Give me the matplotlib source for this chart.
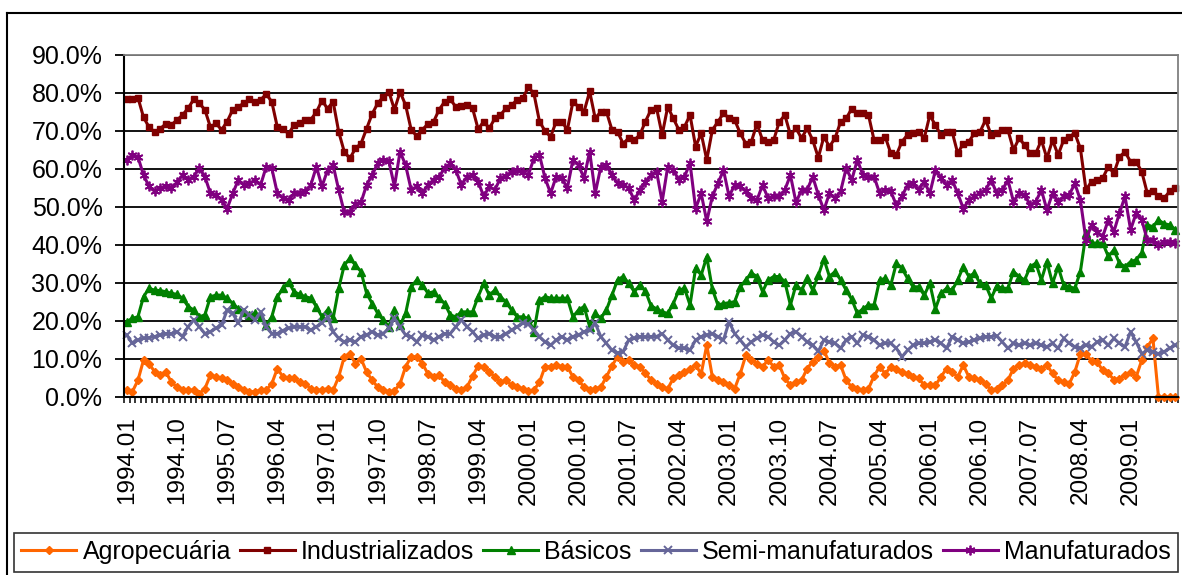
import matplotlib
matplotlib.use('Agg')
import matplotlib.pyplot as plt
import numpy as np
from matplotlib.lines import Line2D
from matplotlib.ticker import FuncFormatter

plt.rcParams['font.family'] = ['Liberation Sans', 'DejaVu Sans']

# Monthly shares [%], 1994.01 - 2009.09, one row per year
# ----------------------------------------------------------------------------

agro = [
    1.8, 1.4, 4.4, 9.7, 8.8, 6.6, 5.8, 6.6, 3.9, 2.6, 1.8, 1.8,
    1.8, 0.9, 2.2, 5.8, 5.3, 4.9, 4.4, 3.5, 2.6, 1.8, 1.4, 1.4,
    1.8, 1.8, 3.5, 7.5, 5.3, 4.9, 4.9, 3.9, 3.5, 2.2, 1.8, 1.8,
    2.2, 1.8, 5.3, 10.6, 11.4, 8.8, 10.1, 6.6, 4.4, 2.6, 1.8, 1.4,
    1.6, 3.5, 8.0, 10.6, 10.6, 8.8, 6.1, 5.3, 5.7, 3.9, 3.1, 2.2,
    1.8, 2.6, 5.5, 8.2, 8.0, 6.6, 5.3, 3.9, 4.4, 3.1, 2.6, 2.2,
    1.6, 1.8, 3.9, 8.0, 8.0, 8.4, 8.0, 8.0, 5.3, 4.4, 2.6, 1.8,
    2.2, 2.6, 5.3, 8.2, 10.6, 9.3, 9.7, 8.4, 8.0, 6.3, 4.4, 3.5,
    2.6, 2.2, 4.9, 5.9, 6.5, 7.5, 8.4, 6.1, 13.7, 5.3, 4.4, 3.9,
    3.1, 2.2, 6.1, 11.0, 9.7, 8.8, 8.0, 9.7, 8.0, 8.4, 4.9, 3.1,
    3.9, 4.4, 7.5, 9.3, 10.6, 12.2, 9.0, 8.0, 8.4, 4.4, 2.6, 2.2,
    1.8, 2.2, 5.5, 8.0, 6.1, 8.0, 7.5, 6.6, 6.1, 5.3, 4.9, 3.1,
    3.1, 3.1, 5.3, 7.5, 6.5, 5.3, 8.4, 5.3, 4.9, 4.4, 3.5, 1.8,
    2.2, 3.1, 4.4, 7.5, 8.4, 8.9, 8.4, 8.0, 7.5, 8.4, 6.2, 4.4,
    3.9, 3.5, 6.6, 11.4, 11.4, 9.4, 9.2, 7.0, 6.2, 4.6, 4.8, 5.7,
    6.6, 5.3, 9.7, 13.2, 15.4, 0.0, 0.0, 0.0, 0.0,
]

industrializados = [
    78.5, 78.3, 78.8, 73.6, 71.0, 69.7, 70.6, 71.9, 71.6, 72.9, 74.2, 76.0,
    78.3, 77.3, 75.6, 71.0, 72.0, 70.3, 72.5, 75.6, 76.4, 77.3, 78.3, 77.7,
    78.2, 79.7, 77.7, 71.0, 70.6, 69.3, 71.5, 72.0, 72.8, 73.0, 75.0, 78.0,
    75.9, 77.7, 69.8, 64.5, 62.8, 65.4, 66.7, 70.6, 74.5, 77.3, 79.0, 80.3,
    75.6, 80.3, 76.8, 70.3, 68.7, 70.3, 71.9, 72.4, 75.6, 77.7, 78.3, 76.4,
    76.6, 76.8, 76.0, 70.5, 72.5, 70.7, 73.3, 74.2, 76.0, 76.8, 78.2, 78.6,
    81.5, 79.9, 72.5, 70.0, 68.5, 72.5, 72.5, 70.3, 77.7, 76.4, 75.1, 80.4,
    73.3, 75.1, 75.1, 70.3, 69.8, 66.7, 68.1, 67.6, 69.0, 72.5, 75.6, 76.0,
    69.0, 76.4, 73.3, 70.3, 71.1, 74.2, 65.9, 69.4, 62.4, 70.3, 72.4, 74.7,
    73.3, 72.9, 69.4, 66.7, 67.2, 71.9, 67.6, 67.2, 67.6, 72.4, 74.2, 69.0,
    70.7, 68.1, 70.7, 67.6, 63.0, 68.5, 65.9, 68.1, 72.4, 73.3, 75.9, 74.7,
    74.7, 74.2, 67.6, 67.6, 68.5, 64.1, 63.7, 67.2, 69.0, 69.4, 69.8, 68.1,
    74.2, 71.5, 69.0, 69.8, 69.8, 64.1, 66.7, 67.2, 69.4, 69.8, 72.9, 69.0,
    69.5, 70.3, 70.3, 65.0, 68.1, 66.3, 64.1, 64.1, 67.6, 62.8, 67.6, 63.7,
    67.6, 68.5, 69.4, 65.4, 54.5, 56.7, 57.1, 57.6, 60.6, 58.9, 63.2, 64.5,
    61.9, 61.9, 59.3, 53.6, 54.1, 52.8, 52.3, 54.1, 55.0,
]

basicos = [
    19.8, 20.7, 21.1, 26.4, 28.6, 28.1, 28.0, 27.7, 27.3, 27.0, 26.0, 23.8,
    22.9, 21.1, 21.6, 26.4, 26.8, 26.8, 26.0, 24.6, 23.2, 22.4, 21.6, 22.0,
    21.1, 18.9, 21.1, 26.4, 28.6, 30.3, 27.7, 27.0, 26.4, 26.0, 23.8, 21.1,
    22.9, 20.7, 28.6, 34.7, 36.5, 34.7, 33.0, 27.3, 24.6, 22.0, 20.2, 18.5,
    22.9, 18.9, 22.0, 29.0, 30.8, 29.5, 27.3, 27.7, 26.0, 24.6, 21.6, 21.1,
    22.4, 22.4, 22.4, 26.4, 29.9, 26.8, 28.1, 26.4, 25.0, 22.9, 21.1, 21.1,
    20.7, 17.2, 25.5, 26.4, 26.0, 26.0, 26.0, 26.0, 21.1, 22.9, 23.8, 18.5,
    22.0, 20.7, 22.9, 26.8, 30.8, 31.7, 29.9, 27.7, 29.5, 27.9, 24.0, 23.2,
    22.4, 22.0, 24.6, 28.1, 28.6, 24.2, 33.9, 32.1, 36.9, 28.4, 24.2, 24.6,
    24.8, 25.1, 29.0, 30.8, 32.6, 31.7, 27.7, 30.8, 31.7, 31.7, 30.3, 24.2,
    29.5, 28.1, 31.2, 28.1, 32.0, 36.3, 31.7, 33.0, 30.8, 28.1, 25.7, 22.0,
    23.2, 24.2, 24.2, 30.8, 31.2, 29.5, 35.2, 33.9, 31.2, 29.0, 29.0, 26.8,
    29.9, 23.2, 27.3, 28.6, 28.1, 30.8, 34.3, 31.7, 32.6, 29.9, 29.5, 26.0,
    29.2, 28.6, 28.6, 33.0, 31.7, 30.8, 34.3, 35.2, 30.8, 35.6, 29.9, 34.3,
    29.5, 29.0, 28.6, 33.0, 43.1, 40.5, 40.5, 40.5, 37.0, 38.7, 35.2, 34.3,
    35.6, 36.1, 38.0, 45.3, 44.8, 46.6, 45.6, 45.3, 44.0,
]

semi = [
    16.3, 14.1, 15.0, 15.4, 15.6, 15.9, 16.3, 16.7, 16.7, 17.2, 15.9, 18.5,
    20.3, 18.5, 16.7, 17.2, 18.1, 18.9, 22.9, 22.0, 19.4, 22.9, 21.6, 20.3,
    22.4, 18.5, 16.7, 16.7, 17.5, 18.1, 18.5, 18.5, 18.5, 17.6, 18.5, 19.5,
    21.1, 17.2, 15.4, 14.5, 15.0, 14.5, 15.9, 16.3, 17.2, 16.3, 16.7, 18.1,
    20.7, 18.5, 16.3, 15.9, 14.5, 16.3, 15.9, 15.0, 15.9, 16.7, 16.7, 18.5,
    20.3, 18.5, 17.2, 15.4, 16.3, 16.7, 15.9, 15.9, 16.7, 17.6, 18.5, 19.4,
    19.2, 17.6, 15.9, 14.5, 13.6, 15.0, 15.9, 15.0, 15.9, 16.3, 17.2, 17.6,
    19.4, 15.9, 14.1, 12.3, 11.6, 11.9, 15.0, 15.4, 15.9, 15.8, 15.9, 15.9,
    16.7, 15.0, 13.6, 12.8, 12.8, 12.3, 15.0, 15.9, 16.3, 16.7, 15.9, 15.0,
    19.8, 16.7, 15.0, 13.2, 14.5, 15.4, 16.3, 15.9, 14.5, 13.6, 15.0, 16.7,
    17.2, 15.9, 14.5, 13.6, 12.0, 15.0, 14.5, 14.1, 12.8, 15.0, 15.9, 14.1,
    16.3, 15.9, 15.0, 13.6, 14.1, 14.1, 12.8, 10.6, 12.3, 13.6, 14.1, 14.1,
    14.5, 15.0, 14.1, 12.8, 15.9, 15.0, 14.1, 14.5, 15.0, 15.4, 15.9, 15.9,
    16.1, 14.5, 12.8, 14.1, 13.6, 14.1, 13.6, 14.1, 13.6, 13.2, 14.1, 12.8,
    15.4, 14.1, 13.2, 12.8, 13.6, 13.2, 14.5, 15.0, 13.6, 15.4, 14.1, 13.2,
    17.2, 14.5, 11.4, 12.3, 11.9, 11.4, 11.9, 12.8, 13.6,
]

manufaturados = [
    62.4, 63.7, 63.2, 58.4, 55.4, 54.1, 55.0, 55.4, 55.0, 56.5, 58.4, 57.1,
    58.0, 60.2, 58.0, 53.6, 53.2, 51.8, 49.6, 53.6, 57.1, 55.8, 56.2, 57.1,
    55.8, 60.6, 60.2, 53.6, 52.3, 51.8, 53.6, 53.6, 54.1, 55.8, 60.6, 55.4,
    59.7, 61.0, 54.5, 48.6, 48.6, 50.8, 51.2, 55.8, 58.4, 61.5, 62.4, 62.0,
    55.4, 64.6, 61.0, 54.5, 55.4, 53.6, 55.8, 57.1, 58.0, 60.2, 61.5, 59.7,
    55.8, 58.0, 58.4, 56.7, 52.8, 55.4, 54.5, 57.6, 58.2, 59.3, 59.7, 59.3,
    58.4, 62.8, 63.7, 57.6, 53.6, 58.0, 57.6, 55.0, 62.4, 61.0, 57.6, 64.6,
    53.6, 60.6, 61.0, 58.4, 56.2, 55.8, 55.0, 51.8, 54.5, 56.5, 58.4, 59.3,
    51.4, 60.6, 59.7, 57.1, 58.0, 61.5, 49.6, 53.6, 46.2, 52.8, 56.2, 59.7,
    52.8, 55.8, 55.4, 54.1, 52.3, 51.8, 55.8, 52.3, 52.8, 52.8, 54.5, 58.4,
    51.2, 54.5, 54.5, 58.0, 53.2, 49.2, 53.6, 52.3, 54.1, 60.2, 57.1, 62.4,
    58.4, 58.0, 58.0, 53.6, 54.5, 54.1, 50.5, 52.8, 55.8, 56.2, 54.5, 56.7,
    53.6, 59.7, 57.6, 55.8, 57.1, 53.6, 49.6, 51.8, 52.8, 53.6, 54.5, 57.1,
    53.6, 54.5, 57.1, 51.4, 53.6, 53.2, 50.5, 51.4, 54.5, 49.2, 53.6, 51.4,
    52.8, 53.2, 56.2, 51.8, 41.3, 45.3, 43.5, 42.2, 46.6, 43.5, 48.4, 52.8,
    44.0, 48.4, 46.6, 41.3, 41.3, 40.0, 40.9, 40.9, 40.5,
]

tick_labels = ['1994.01', '1994.10', '1995.07', '1996.04', '1997.01', '1997.10',
               '1998.07', '1999.04', '2000.01', '2000.10', '2001.07', '2002.04',
               '2003.01', '2003.10', '2004.07', '2005.04', '2006.01', '2006.10',
               '2007.07', '2008.04', '2009.01']

n = len(agro)
for s in (industrializados, basicos, semi, manufaturados):
    assert len(s) == n, len(s)

# Plot
# ----------------------------------------------------------------------------

fig = plt.figure(figsize=(11.82, 5.75), dpi=100)
ax = fig.add_axes([124 / 1182, 1 - 397 / 575, (1178 - 124) / 1182, (397 - 55) / 575])

x = np.arange(n)
series = [
    ('Agropecuária', agro, '#FF6600', dict(marker='D', ms=4)),
    ('Industrializados', industrializados, '#800000', dict(marker='s', ms=4.5)),
    ('Básicos', basicos, '#008000', dict(marker='^', ms=5.5)),
    ('Semi-manufaturados', semi, '#666699', dict(marker='x', ms=6, mew=1.4)),
    ('Manufaturados', manufaturados, '#800080', dict(marker=(6, 2, 0), ms=7, mew=1.3)),
]
for label, vals, col, mk in series:
    ax.plot(x, vals, color=col, lw=2.2, label=label, clip_on=False, **mk)

ax.set_xlim(-0.5, n - 0.5)
ax.set_ylim(0, 90)
ax.set_yticks(np.arange(0, 91, 10))
ax.yaxis.set_major_formatter(FuncFormatter(lambda v, p: f'{v:.1f}%'))
ax.grid(axis='y', color='black', lw=1.3)
ax.set_axisbelow(True)

ax.set_xticks(np.arange(0, n, 9))
ax.set_xticklabels(tick_labels, rotation=90)
ax.set_xticks(np.arange(n + 1) - 0.5, minor=True)
ax.tick_params(axis='x', which='major', length=0, pad=14, labelsize=17.5)
ax.tick_params(axis='x', which='minor', length=4.5, width=1.1, direction='out')
ax.tick_params(axis='y', length=6.5, width=1.3, pad=9, labelsize=18)

for side in ('top', 'right'):
    ax.spines[side].set_color('#808080')
    ax.spines[side].set_linewidth(1.3)
for side in ('left', 'bottom'):
    ax.spines[side].set_color('black')
    ax.spines[side].set_linewidth(1.5)

# outer chart border
fig.add_artist(Line2D([7 / 1182, 1], [1 - 13 / 575] * 2, color='black', lw=1.5,
                      transform=fig.transFigure))
fig.add_artist(Line2D([7 / 1182] * 2, [0, 1 - 13 / 575], color='black', lw=1.5,
                      transform=fig.transFigure))

leg = fig.legend(loc='center', bbox_to_anchor=(596 / 1182, 1 - 552 / 575), ncol=5,
                 fontsize=18, frameon=True, fancybox=False, handlelength=2.2,
                 handletextpad=0.25, columnspacing=0.35, borderpad=0.3,
                 borderaxespad=0)
leg.get_frame().set_edgecolor('black')
leg.get_frame().set_linewidth(1.2)

fig.savefig('out.png', dpi=100)
